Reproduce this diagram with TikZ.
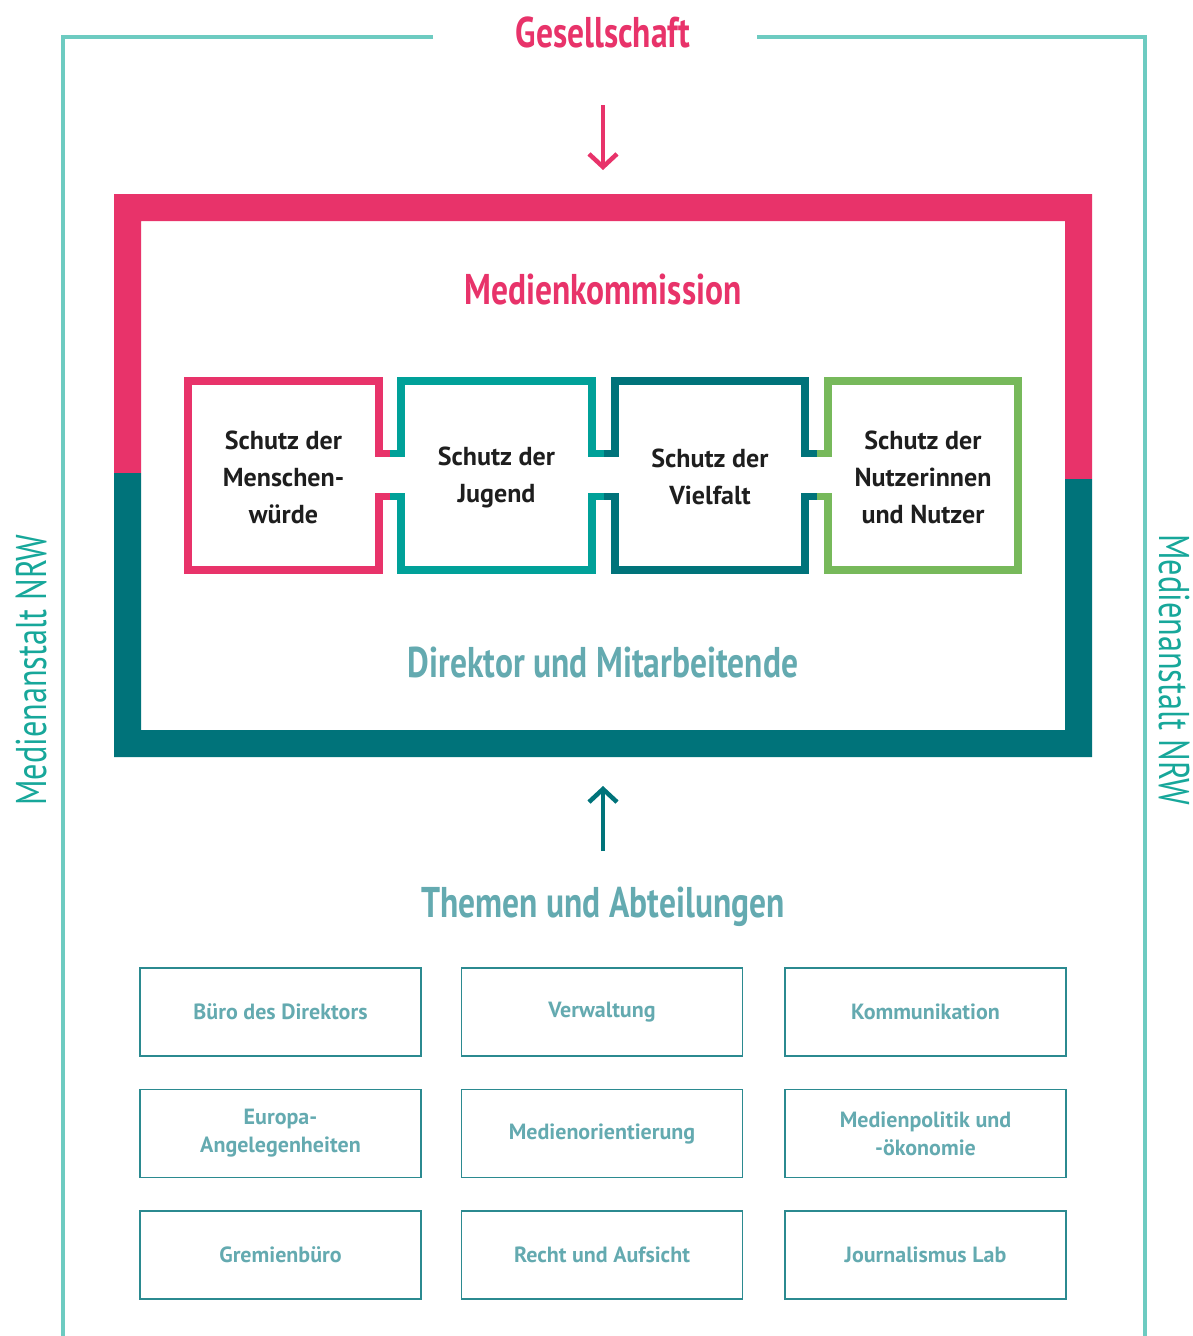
\documentclass[tikz,border=0pt]{standalone}
\usepackage{fontspec}
\setmainfont{PT Sans}
\newfontfamily\condfont[FakeStretch=0.78]{PT Sans}
\newfontfamily\sidefont[FakeStretch=0.75]{PT Sans}
\usepackage{xcolor}
\usepackage{tikz}
\usetikzlibrary{arrows.meta}

\definecolor{mkpink}{HTML}{E8336A}
\definecolor{mkpetrol}{HTML}{00737A}
\definecolor{mkteal}{HTML}{00A199}
\definecolor{mkgreen}{HTML}{77B95B}
\definecolor{mkframe}{HTML}{6DCBC1}
\definecolor{mkside}{HTML}{17A79A}
\definecolor{mkmuted}{HTML}{64AAB0}
\definecolor{mkbox}{HTML}{2B8A90}
\definecolor{mkink}{HTML}{1E1E1E}

\tikzset{
  head/.style={font=\condfont\bfseries\fontsize{43}{43}\selectfont, inner sep=0pt, anchor=base},
  sidetext/.style={font=\sidefont\fontsize{43}{43}\selectfont, text=mkside, inner sep=0pt, anchor=base},
  piece/.style={draw=#1, line width=7.5pt, line join=miter},
  piecetext/.style={font=\bfseries\fontsize{26}{37}\selectfont, text=mkink, align=center, inner sep=0pt},
  unit/.style={draw=mkbox, line width=1.5pt, minimum width=281pt, minimum height=88pt,
    text=mkmuted, font=\bfseries\fontsize{22}{28}\selectfont, align=center, inner sep=0pt},
  flow/.style={line width=4.5pt, -{Straight Barb[length=13pt,width=28pt]}},
}

\begin{document}
\begin{tikzpicture}[x=1pt, y=-1pt]
        \useasboundingbox (0,0) rectangle (1193,1336);

        % Outer frame
        \draw[mkframe, line width=4.5pt] (433,37) -- (63,37) -- (63,1336);
        \draw[mkframe, line width=4.5pt] (757,37) -- (1145,37) -- (1145,1336);
        \node[head, text=mkpink] (gesell) at (603,47) {Gesellschaft};
        \node[sidetext, rotate=90]  (sideL) at (46,670)   {Medienanstalt NRW};
        \node[sidetext, rotate=-90] (sideR) at (1159,670) {Medienanstalt NRW};

        % Arrow into the frame
        \coordinate (inTop) at (603,105);
        \coordinate (inTip) at (603,170);
        \draw[flow, mkpink] (inTop) -- (inTip);

        % Big frame: pink top half, petrol bottom half
        \fill[mkpink] (114,473) -- (114,194) -- (1092,194) -- (1092,479)
          -- (1065,479) -- (1065,221) -- (141,221) -- (141,473) -- cycle;
        \fill[mkpetrol] (114,473) -- (114,757) -- (1092,757) -- (1092,479)
          -- (1065,479) -- (1065,730) -- (141,730) -- (141,473) -- cycle;

        \node[head, text=mkpink] (komm) at (603,304) {Medienkommission};
        \node[head, text=mkmuted] (direktor) at (603,677) {Direktor und Mitarbeitende};

        % Puzzle pieces
        \draw[piece=mkpink] (390,453.5) -- (379,453.5) -- (379,381) -- (188,381)
          -- (188,570) -- (379,570) -- (379,496.5) -- (390,496.5);
        \draw[piece=mkteal] (390,453.5) -- (401,453.5) -- (401,381) -- (592,381)
          -- (592,453.5) -- (603.5,453.5);
        \draw[piece=mkteal] (390,496.5) -- (401,496.5) -- (401,570) -- (592,570)
          -- (592,496.5) -- (603.5,496.5);
        \draw[piece=mkpetrol] (603.5,453.5) -- (615,453.5) -- (615,381) -- (805,381)
          -- (805,453.5) -- (816.5,453.5);
        \draw[piece=mkpetrol] (603.5,496.5) -- (615,496.5) -- (615,570) -- (805,570)
          -- (805,496.5) -- (816.5,496.5);
        \draw[piece=mkgreen] (816.5,453.5) -- (828,453.5) -- (828,381) -- (1018,381)
          -- (1018,570) -- (828,570) -- (828,496.5) -- (816.5,496.5);

        \node[piecetext] (s1) at (283.5,477) {Schutz der\\Menschen-\\würde};
        \node[piecetext] (s2) at (496.5,477) {Schutz der\\Jugend};
        \node[piecetext] (s3) at (710,477)   {Schutz der\\Vielfalt};
        \node[piecetext] (s4) at (923,477)   {Schutz der\\Nutzerinnen\\und Nutzer};

        % Arrow from the departments
        \coordinate (upFoot) at (603,851);
        \coordinate (upTip) at (603,786);
        \draw[flow, mkpetrol] (upFoot) -- (upTip);

        \node[head, text=mkmuted] (themen) at (603,917) {Themen und Abteilungen};

        % Departments
        \node[unit] (b1) at (280.5,1012) {Büro des Direktors};
        \node[unit] (b2) at (602,1012)   {Verwaltung};
        \node[unit] (b3) at (925.5,1012) {Kommunikation};
        \node[unit] (b4) at (280.5,1133.5) {Europa-\\Angelegenheiten};
        \node[unit] (b5) at (602,1133.5)   {Medienorientierung};
        \node[unit] (b6) at (925.5,1133.5) {Medienpolitik und\\-ökonomie};
        \node[unit] (b7) at (280.5,1255) {Gremienbüro};
        \node[unit] (b8) at (602,1255)   {Recht und Aufsicht};
        \node[unit] (b9) at (925.5,1255) {Journalismus Lab};
    \end{tikzpicture}
\end{document}
